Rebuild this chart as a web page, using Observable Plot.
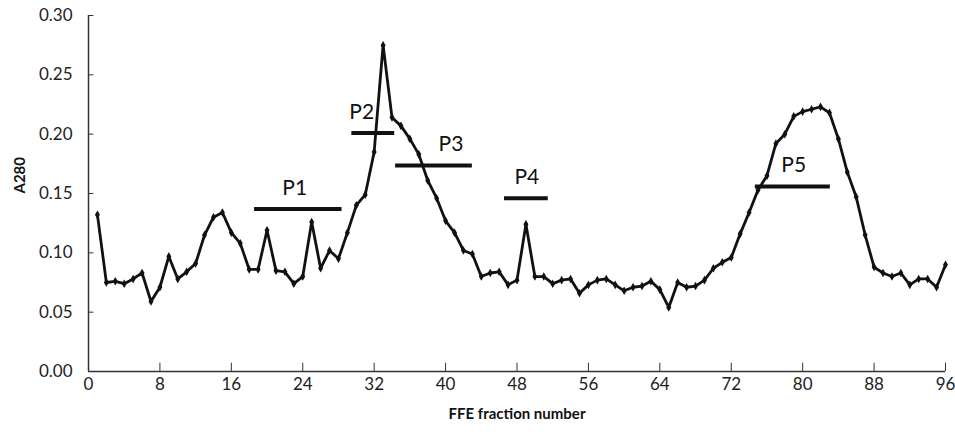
<!DOCTYPE html>
<html>
<head>
<meta charset="utf-8">
<script src="https://cdn.jsdelivr.net/npm/d3@7"></script>
<script src="https://cdn.jsdelivr.net/npm/@observablehq/plot@0.6"></script>
<style>
  html, body { margin: 0; padding: 0; background: #fff; }
</style>
</head>
<body>
<div id="chart"></div>
<script>
// FFE fraction numbers 1..96
const fractions = [
  1, 2, 3, 4, 5, 6, 7, 8, 9, 10, 11, 12, 13, 14, 15, 16,
  17, 18, 19, 20, 21, 22, 23, 24, 25, 26, 27, 28, 29, 30, 31, 32,
  33, 34, 35, 36, 37, 38, 39, 40, 41, 42, 43, 44, 45, 46, 47, 48,
  49, 50, 51, 52, 53, 54, 55, 56, 57, 58, 59, 60, 61, 62, 63, 64,
  65, 66, 67, 68, 69, 70, 71, 72, 73, 74, 75, 76, 77, 78, 79, 80,
  81, 82, 83, 84, 85, 86, 87, 88, 89, 90, 91, 92, 93, 94, 95, 96
];
// A280 absorbance
const a280 = [
  0.132, 0.075, 0.076, 0.074, 0.078, 0.083, 0.059, 0.071, 0.097, 0.078, 0.084, 0.091, 0.115, 0.130, 0.134, 0.117,
  0.108, 0.086, 0.086, 0.119, 0.085, 0.084, 0.074, 0.080, 0.126, 0.087, 0.102, 0.095, 0.117, 0.140, 0.149, 0.185,
  0.275, 0.214, 0.207, 0.196, 0.183, 0.161, 0.146, 0.127, 0.117, 0.102, 0.099, 0.080, 0.083, 0.084, 0.073, 0.077,
  0.124, 0.080, 0.080, 0.074, 0.077, 0.078, 0.066, 0.073, 0.077, 0.078, 0.073, 0.068, 0.071, 0.072, 0.076, 0.069,
  0.054, 0.075, 0.071, 0.072, 0.077, 0.087, 0.092, 0.096, 0.116, 0.134, 0.153, 0.165, 0.192, 0.200, 0.215, 0.219,
  0.221, 0.223, 0.218, 0.196, 0.168, 0.147, 0.115, 0.088, 0.083, 0.080, 0.083, 0.073, 0.078, 0.078, 0.071, 0.090
];
// Pooled fraction bars
const poolNames = ["P1", "P2", "P3", "P4", "P5"];
const poolStart = [18.6, 29.5, 34.4, 46.6, 74.7];
const poolEnd   = [28.4, 34.3, 43.0, 51.5, 83.1];
const poolLevel = [0.137, 0.201, 0.1736, 0.146, 0.156];
const poolLabelX = [23.1, 30.6, 40.6, 49.1, 79.0];

const xTicks = [0, 8, 16, 24, 32, 40, 48, 56, 64, 72, 80, 88, 96];
const yTicks = [0, 0.05, 0.10, 0.15, 0.20, 0.25, 0.30];

const data = fractions.map((f, i) => ({f, v: a280[i]}));
const pools = poolNames.map((n, i) => ({n, x1: poolStart[i], x2: poolEnd[i], y: poolLevel[i], lx: poolLabelX[i]}));

const chart = Plot.plot({
  width: 955,
  height: 434,
  marginLeft: 88,
  marginRight: 10,
  marginTop: 15,
  marginBottom: 63,
  style: {fontFamily: "Lato, 'Open Sans', sans-serif", fontSize: "17px", color: "#222", background: "#fff"},
  x: {domain: [0, 96]},
  y: {domain: [0, 0.30]},
  marks: [
    Plot.axisX({ticks: xTicks, tickSize: 0, tickPadding: 6, label: null, fontSize: 17}),
    Plot.axisY({ticks: yTicks, tickSize: 0, tickPadding: 16, tickFormat: d3.format(".2f"), label: null, fontSize: 17}),
    Plot.ruleX(xTicks, {x: d => d, y1: 0, y2: 0.007, stroke: "#333", strokeWidth: 1}),
    Plot.ruleY(yTicks, {y: d => d, x1: 0, x2: 0.6, stroke: "#333", strokeWidth: 1}),
    Plot.ruleX([0], {y1: 0, y2: 0.30, stroke: "#333", strokeWidth: 1.5}),
    Plot.ruleY([0], {x1: 0, x2: 96, stroke: "#333", strokeWidth: 1.5}),
    Plot.line(data, {x: "f", y: "v", stroke: "#111", strokeWidth: 2.8, strokeLinejoin: "round"}),
    Plot.dot(data, {x: "f", y: "v", symbol: "diamond", r: 2.6, fill: "#111"}),
    Plot.ruleY(pools, {y: "y", x1: "x1", x2: "x2", stroke: "#111", strokeWidth: 4}),
    Plot.text(pools, {x: "lx", y: "y", text: "n", dy: -21, fontSize: 21, fill: "#111"}),
    Plot.text(["FFE fraction number"], {frameAnchor: "bottom", dy: 47, fontSize: 15, fontWeight: "bold", fill: "#111"}),
    Plot.text(["A280"], {frameAnchor: "left", dx: -68, rotate: -90, fontSize: 15, fontWeight: "bold", fill: "#111"})
  ]
});
document.getElementById("chart").appendChild(chart);
</script>
</body>
</html>
